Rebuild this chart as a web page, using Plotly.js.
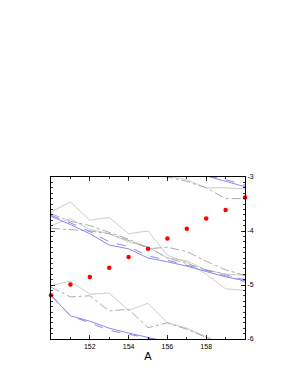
<!DOCTYPE html>
<html>
<head>
<meta charset="utf-8">
<script src="https://cdn.plot.ly/plotly-3.0.1.min.js"></script>
<style>html,body{margin:0;padding:0;background:#fff;}#chart{width:295px;height:382px;}</style>
</head>
<body>
<div id="chart"></div>
<script>
// Mass number axis
const massA = [150,151,152,153,154,155,156,157,158,159,160];

// Measured points (red)
const measured = [-5.19,-4.99,-4.85,-4.68,-4.48,-4.33,-4.14,-3.96,-3.77,-3.61,-3.38];

// Upper band
const upperGraySolid1 = [-3.65,-3.46,-3.80,-3.75,-4.05,-4.00,-4.45,-4.58,-4.80,-5.07,-5.10];
const upperGraySolid2 = [-3.90,-3.77,-3.97,-4.05,-4.20,-4.30,-4.50,-4.55,-4.72,-4.80,-4.82];
const upperGrayDash1  = [-3.68,-3.82,-3.90,-4.02,-4.15,-4.33,-4.30,-4.38,-4.56,-4.72,-4.82];
const upperGrayDash2  = [-3.95,-3.98,-4.00,-4.05,-4.18,-4.30,-4.50,-4.60,-4.72,-4.80,-4.95];
const upperBlueSolid  = [-3.73,-3.88,-4.05,-4.26,-4.33,-4.50,-4.57,-4.65,-4.75,-4.85,-4.92];
const upperBlueDash   = [-3.71,-3.85,-4.01,-4.20,-4.29,-4.46,-4.54,-4.63,-4.73,-4.83,-4.90];

// Lower band
const lowerGraySolid = [-5.01,-4.93,-5.17,-5.15,-5.47,-5.34,-5.70,-5.80,-5.96,-6.10,-6.20];
const lowerGrayDash  = [-5.04,-5.22,-5.20,-5.48,-5.45,-5.79,-5.70,-5.82,-5.97,-6.10,-6.20];
const lowerBlueSolid = [-5.19,-5.57,-5.67,-5.80,-5.89,-5.97,-6.05,-6.10,-6.20,-6.30,-6.40];
const lowerBlueDash  = [-5.19,-5.57,-5.70,-5.84,-5.91,-5.99,-6.06,-6.12,-6.22,-6.32,-6.42];

// Top band (mostly above the plotted range)
const topGraySolid = [-2.20,-2.10,-2.35,-2.30,-2.60,-2.55,-2.98,-3.05,-3.20,-3.20,-3.22];
const topGrayDash  = [-2.25,-2.40,-2.40,-2.65,-2.62,-2.95,-3.00,-3.08,-3.20,-3.40,-3.40];
const topBlueSolid = [-2.30,-2.45,-2.55,-2.65,-2.72,-2.80,-2.86,-2.92,-2.98,-3.08,-3.18];
const topBlueDash  = [-2.28,-2.43,-2.53,-2.62,-2.70,-2.78,-2.84,-2.90,-2.97,-3.05,-3.15];

// Tick labels
const xTickVals = [152,154,156,158];
const xTickText = ['152','154','156','158'];
const yTickVals = [-3,-4,-5,-6];
const yTickText = ['-3','-4','-5','-6'];

const GRAY_SOLID = '#c6c6c6';
const GRAY_DASH = '#a2a2a2';
const BLUE = '#7c7cf2';

function line(y, color, dash) {
  return {x: massA, y: y, type: 'scatter', mode: 'lines',
          line: {color: color, width: 0.9, dash: dash}, hoverinfo: 'skip', showlegend: false};
}

const traces = [
  line(upperGraySolid1, GRAY_SOLID, 'solid'),
  line(upperGraySolid2, GRAY_SOLID, 'solid'),
  line(upperGrayDash1, GRAY_DASH, 'dashdot'),
  line(upperGrayDash2, GRAY_DASH, 'dashdot'),
  line(upperBlueSolid, BLUE, 'solid'),
  line(upperBlueDash, BLUE, 'dash'),
  line(lowerGraySolid, GRAY_SOLID, 'solid'),
  line(lowerGrayDash, GRAY_DASH, 'dashdot'),
  line(lowerBlueSolid, BLUE, 'solid'),
  line(lowerBlueDash, BLUE, 'dash'),
  line(topGraySolid, GRAY_SOLID, 'solid'),
  line(topGrayDash, GRAY_DASH, 'dashdot'),
  line(topBlueSolid, BLUE, 'solid'),
  line(topBlueDash, BLUE, 'dash'),
  {x: massA, y: measured, type: 'scatter', mode: 'markers', cliponaxis: false,
   marker: {color: '#ff0000', size: 4.5, symbol: 'circle', line: {width: 0}}, showlegend: false}
];

const layout = {
  width: 295, height: 382,
  margin: {l: 51, r: 50, t: 177, b: 43, pad: 0},
  paper_bgcolor: '#ffffff', plot_bgcolor: '#ffffff',
  font: {family: 'Liberation Sans, Arial, sans-serif', size: 7, color: '#000'},
  showlegend: false,
  xaxis: {
    range: [150, 160], tickmode: 'array', tickvals: xTickVals, ticktext: xTickText,
    ticks: 'inside', ticklen: 4, tickwidth: 0.8, tickcolor: '#000',
    showline: true, linecolor: '#000', linewidth: 1, mirror: 'ticks',
    showgrid: false, zeroline: false,
    minor: {dtick: 1, tick0: 150, ticks: 'inside', ticklen: 2, tickcolor: '#000', showgrid: false},
    tickfont: {size: 7}, ticklabelstandoff: 1,
    title: {text: 'A', font: {size: 11}, standoff: 2}
  },
  yaxis: {
    range: [-6, -3], side: 'right', tickmode: 'array', tickvals: yTickVals, ticktext: yTickText,
    ticks: 'inside', ticklen: 4, tickwidth: 0.8, tickcolor: '#000',
    showline: true, linecolor: '#000', linewidth: 1, mirror: 'ticks',
    showgrid: false, zeroline: false,
    minor: {dtick: 0.1, tick0: -6, ticks: 'inside', ticklen: 2, tickcolor: '#000', showgrid: false},
    tickfont: {size: 7}
  }
};

Plotly.newPlot('chart', traces, layout, {staticPlot: true, displayModeBar: false});
</script>
</body>
</html>
